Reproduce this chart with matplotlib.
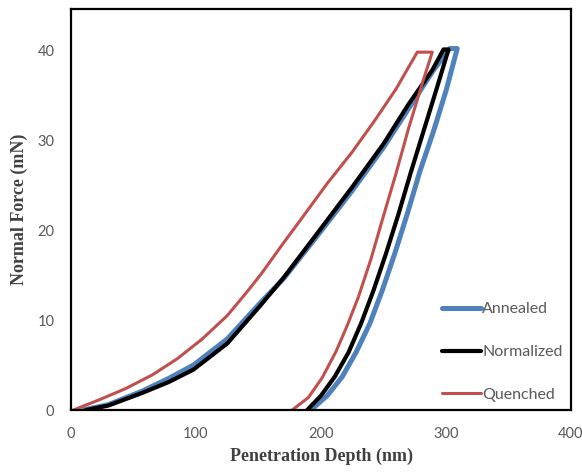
import matplotlib
matplotlib.use("Agg")
import matplotlib.pyplot as plt

# depth (nm), force (mN): loading, hold and unloading
annealed_x = [10, 30, 57, 78, 98, 125, 152, 170, 200, 225, 250, 270, 290, 303,
              309, 300, 290, 279, 269, 259, 249, 239, 228, 217, 205, 192]
annealed_y = [0, 0.6, 2.1, 3.5, 5.0, 7.9, 12.0, 14.6, 19.9, 24.4, 29.2, 33.5, 37.8, 40.2,
              40.2, 35.5, 31.0, 26.5, 21.8, 17.4, 13.3, 9.6, 6.4, 3.7, 1.6, 0]

normalized_x = [12, 30, 57, 78, 98, 125, 152, 170, 200, 225, 250, 270, 289, 298,
                302, 292, 282, 272, 262, 252, 242, 232, 222, 211, 200, 189]
normalized_y = [0, 0.5, 1.9, 3.1, 4.5, 7.4, 11.7, 14.7, 20.2, 24.8, 29.6, 34.0, 37.8, 40.1,
                40.1, 35.5, 31.0, 26.5, 21.8, 17.4, 13.3, 9.6, 6.4, 3.7, 1.6, 0]

quenched_x = [2, 22, 44, 65, 85, 105, 125, 140, 152, 168, 185, 205, 225, 243, 260, 277,
              289, 281, 270, 260, 250, 240, 230, 221, 212, 201, 190, 177]
quenched_y = [0, 1.1, 2.4, 3.9, 5.7, 7.9, 10.5, 13.0, 15.1, 18.2, 21.4, 25.2, 28.7, 32.2, 35.7, 39.8,
              39.8, 36.3, 31.3, 26.3, 21.6, 16.8, 12.6, 9.4, 6.5, 3.6, 1.4, 0]

x_ticks = [0, 100, 200, 300, 400]
y_ticks = [0, 10, 20, 30, 40]

fig = plt.figure(figsize=(5.82, 4.74), dpi=100)
ax = fig.add_axes([71 / 582, 64 / 474, 500 / 582, 401 / 474])

ax.plot(annealed_x, annealed_y, color="#4F81BD", lw=3.6, label="Annealed",
        solid_joinstyle="round", solid_capstyle="round")
ax.plot(normalized_x, normalized_y, color="black", lw=3.0, label="Normalized",
        solid_joinstyle="round", solid_capstyle="round")
ax.plot(quenched_x, quenched_y, color="#C0504D", lw=2.2, label="Quenched",
        solid_joinstyle="round", solid_capstyle="round")

ax.set_xlim(0, 400)
ax.set_ylim(0, 44.6)
ax.set_xticks(x_ticks)
ax.set_yticks(y_ticks)
ax.tick_params(length=0, labelsize=10.5, labelcolor="#595959", pad=12)
for lab in ax.get_xticklabels() + ax.get_yticklabels():
    lab.set_family("Lato")
for s in ax.spines.values():
    s.set_linewidth(1.6)
    s.set_color("black")

ax.set_xlabel("Penetration Depth (nm)", family="Liberation Serif", fontweight="bold",
              fontsize=13, color="#404040", labelpad=5)
ax.set_ylabel("Normal Force (mN)", family="Liberation Serif", fontweight="bold",
              fontsize=13, color="#404040", labelpad=7)

leg = ax.legend(loc="lower left", bbox_to_anchor=(0.72, -0.008), frameon=False,
                prop={"family": "Lato", "size": 11.5}, handlelength=2.4,
                handletextpad=0.1, labelspacing=1.8, borderpad=0.2)
for t in leg.get_texts():
    t.set_color("#595959")

fig.savefig("out.png", dpi=100)
